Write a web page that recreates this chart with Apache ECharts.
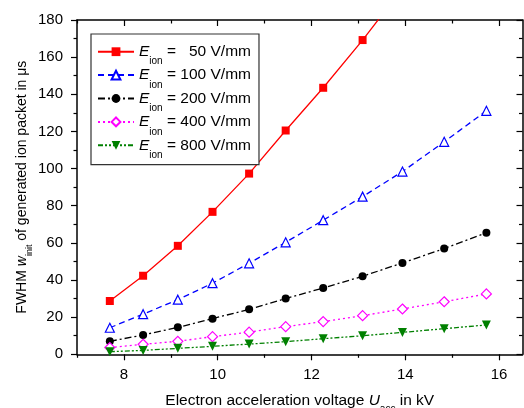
<!DOCTYPE html>
<html>
<head>
<meta charset="utf-8">
<script src="https://cdn.jsdelivr.net/npm/echarts@6/dist/echarts.min.js"></script>
<style>
html,body{margin:0;padding:0;background:#fff;}
#chart{width:524px;height:408px;}
</style>
</head>
<body>
<div id="chart"></div>
<script>
// ---- data ----
var voltages = [7.70, 8.41, 9.15, 9.89, 10.67, 11.45, 12.25, 13.09, 13.94, 14.83, 15.73];
var fwhm50  = [28.7, 42.3, 58.4, 76.7, 97.3, 120.5, 143.5, 169.2, 197];
var fwhm100 = [14.3, 21.6, 29.4, 38.3, 49.0, 60.3, 72.2, 84.9, 98.4, 114.4, 131.1];
var fwhm200 = [7.0, 10.4, 14.5, 19.2, 24.2, 30.0, 35.7, 42.0, 49.2, 56.9, 65.4];
var fwhm400 = [3.6, 5.4, 7.0, 9.5, 11.9, 14.9, 17.6, 20.8, 24.4, 28.3, 32.5];
var fwhm800 = [1.4, 2.1, 3.2, 4.3, 5.5, 6.8, 8.4, 10.0, 11.8, 13.8, 15.8];
var fieldNames = ['50', '100', '200', '400', '800'];
var xMajorTicks = [8, 10, 12, 14, 16];
var xMinorTicks = [7, 9, 11, 13, 15];

var FONT = "'Liberation Sans', Arial, sans-serif";
function pairs(ys) { return ys.map(function (v, i) { return [voltages[i], v]; }); }

var chart = echarts.init(document.getElementById('chart'), null, {renderer: 'canvas'});
var axisLineStyle = {color: '#000', width: 1.5};

function xAx(pos, ticks, len, inside, showLabel, showLine, extra) {
  var a = {
    type: 'value', min: 7, max: 16.5, position: pos,
    axisLine: {show: showLine, onZero: false, lineStyle: axisLineStyle},
    axisTick: {show: true, inside: inside, length: len, customValues: ticks, lineStyle: {color: '#000', width: 1.2}},
    axisLabel: {show: showLabel, customValues: xMajorTicks, color: '#000', fontSize: 15, fontFamily: FONT, margin: 13},
    splitLine: {show: false}
  };
  if (extra) for (var k in extra) a[k] = extra[k];
  return a;
}

function richSet(mainSize, subSize, lh) {
  return {
    t: {fontSize: mainSize, lineHeight: lh, verticalAlign: 'middle', fontFamily: FONT, color: '#000'},
    i: {fontSize: mainSize, lineHeight: lh, verticalAlign: 'middle', fontStyle: 'italic', fontFamily: FONT, color: '#000'},
    s: {fontSize: subSize, lineHeight: 2, height: 2, verticalAlign: 'bottom', fontFamily: FONT, color: '#000'},
    n: {fontSize: mainSize, lineHeight: lh, verticalAlign: 'middle', fontFamily: FONT, color: '#000'},
    n2: {fontSize: mainSize, lineHeight: lh, verticalAlign: 'middle', padding: [0, 0, 0, 8.6], fontFamily: FONT, color: '#000'}
  };
}

var option = {
  animation: false,
  backgroundColor: '#fff',
  grid: {left: 77, right: 1.5, top: 20, bottom: 53.7, containLabel: false, outerBoundsMode: 'none'},
  xAxis: [
    xAx('bottom', xMajorTicks, 6, false, true, true, {
      name: '{t|Electron acceleration voltage }{i|U}{s|acc}{t| in kV}',
      nameLocation: 'middle', nameGap: 36, nameMoveOverlap: false,
      nameTextStyle: {color: '#000', fontFamily: FONT, rich: richSet(15.5, 10, 20)}
    }),
    xAx('bottom', xMinorTicks, 3.5, false, false, false),
    xAx('top', xMajorTicks, 6, true, false, true),
    xAx('top', xMinorTicks, 3.5, true, false, false)
  ],
  yAxis: [
    {
      type: 'value', min: 0, max: 180, interval: 20, position: 'left',
      axisLine: {show: true, onZero: false, lineStyle: axisLineStyle},
      axisTick: {show: true, inside: false, length: 6, lineStyle: {color: '#000', width: 1.2}},
      minorTick: {show: true, splitNumber: 2, length: 3.5, lineStyle: {color: '#000', width: 1.2}},
      axisLabel: {color: '#000', fontSize: 15, fontFamily: FONT, margin: 14},
      splitLine: {show: false},
      name: '{t|FWHM }{i|w}{s|init}{t| of generated ion packet in μs}',
      nameLocation: 'middle', nameGap: 46, nameMoveOverlap: false,
      nameTextStyle: {color: '#000', fontFamily: FONT, rich: richSet(14, 9, 18)}
    },
    {
      type: 'value', min: 0, max: 180, interval: 20, position: 'right',
      axisLine: {show: true, onZero: false, lineStyle: axisLineStyle},
      axisTick: {show: true, inside: true, length: 6, lineStyle: {color: '#000', width: 1.2}},
      minorTick: {show: true, splitNumber: 2, length: 3.5, lineStyle: {color: '#000', width: 1.2}},
      axisLabel: {show: false},
      splitLine: {show: false}
    }
  ],
  legend: {
    orient: 'vertical', left: 91, top: 34,
    backgroundColor: '#fff', borderColor: '#333', borderWidth: 1.2,
    padding: [9.7, 8, 4.3, 6],
    itemWidth: 36, itemHeight: 11, itemGap: 0.4,
    data: fieldNames,
    formatter: function (name) {
      var tag = name.length < 3 ? 'n2' : 'n';
      return '{i|E}{s|ion}{t| = }{' + tag + '|' + name + '}{t| V/mm}';
    },
    textStyle: {color: '#000', fontFamily: FONT, rich: richSet(15.5, 10, 22)}
  },
  series: [
    {name: '50', type: 'line', data: pairs(fwhm50), symbol: 'rect', symbolSize: 8,
     itemStyle: {color: '#ff0000'}, lineStyle: {color: '#ff0000', width: 1.3, type: 'solid'}},
    {name: '100', type: 'line', data: pairs(fwhm100), symbol: 'triangle', symbolSize: 9,
     itemStyle: {color: '#fff', borderColor: '#0000ff', borderWidth: 1.2},
     lineStyle: {color: '#0000ff', width: 1.3, type: [6, 4]}},
    {name: '200', type: 'line', data: pairs(fwhm200), symbol: 'circle', symbolSize: 8,
     itemStyle: {color: '#000'}, lineStyle: {color: '#000', width: 1.3, type: [7, 3, 2, 3]}},
    {name: '400', type: 'line', data: pairs(fwhm400), symbol: 'diamond', symbolSize: 10,
     itemStyle: {color: '#fff', borderColor: '#ff00ff', borderWidth: 1.2},
     lineStyle: {color: '#ff00ff', width: 1.3, type: [2, 3]}},
    {name: '800', type: 'line', data: pairs(fwhm800), symbol: 'triangle', symbolRotate: 180, symbolSize: 9,
     itemStyle: {color: '#008000'}, lineStyle: {color: '#008000', width: 1.3, type: [5, 2, 2, 2, 2, 2]}}
  ]
};
chart.setOption(option);
</script>
</body>
</html>
